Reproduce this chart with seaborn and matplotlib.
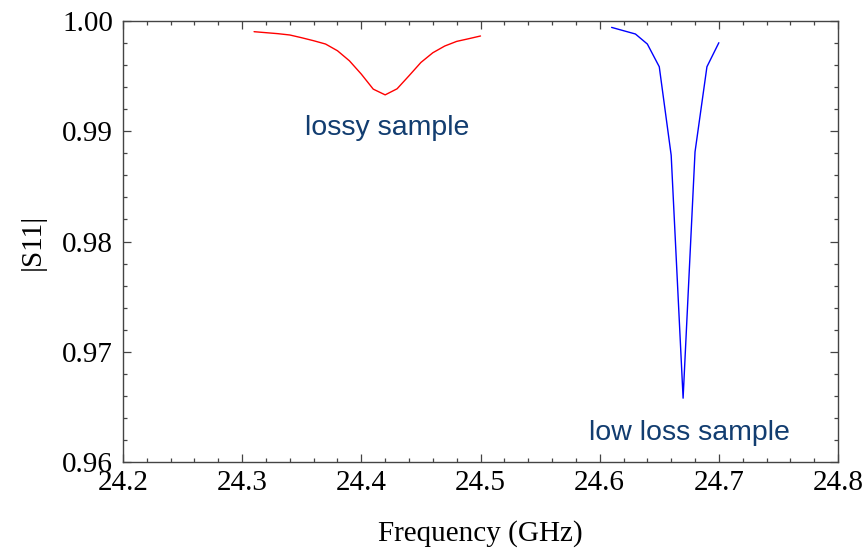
import numpy as np
import pandas as pd
import matplotlib
matplotlib.use("Agg")
import matplotlib.pyplot as plt
import seaborn as sns
from matplotlib.ticker import MultipleLocator

# data
lossy_freq = [24.31, 24.32, 24.33, 24.34, 24.35, 24.36, 24.37, 24.38, 24.39, 24.40,
              24.41, 24.42, 24.43, 24.44, 24.45, 24.46, 24.47, 24.48, 24.49, 24.50]
lossy_s11 = [0.99903, 0.99894, 0.99885, 0.99873, 0.99848, 0.99821, 0.99791, 0.99730,
             0.99639, 0.99518, 0.99382, 0.99330, 0.99385, 0.99503, 0.99624, 0.99712,
             0.99773, 0.99815, 0.99839, 0.99864]

lowloss_freq = [24.61, 24.62, 24.63, 24.64, 24.65, 24.66, 24.67, 24.68, 24.69, 24.70]
lowloss_s11 = [0.99942, 0.99912, 0.99882, 0.99791, 0.99585, 0.98782, 0.96579,
               0.98812, 0.99585, 0.99803]

x_ticks = [24.2, 24.3, 24.4, 24.5, 24.6, 24.7, 24.8]
y_ticks = [0.96, 0.97, 0.98, 0.99, 1.00]

df_lossy = pd.DataFrame({"freq": lossy_freq, "s11": lossy_s11})
df_low = pd.DataFrame({"freq": lowloss_freq, "s11": lowloss_s11})

sns.set_style("ticks")
plt.rcParams['font.family'] = ['Liberation Serif', 'DejaVu Serif']
plt.rcParams['text.color'] = 'black'
plt.rcParams['xtick.labelcolor'] = 'black'
plt.rcParams['ytick.labelcolor'] = 'black'
plt.rcParams['axes.labelcolor'] = 'black'

fig, ax = plt.subplots(figsize=(8.66, 5.51), dpi=100)
fig.subplots_adjust(left=0.142, right=0.9677, top=0.9619, bottom=0.1615)

sns.lineplot(data=df_lossy, x="freq", y="s11", color="#ff0000", lw=1.0, ax=ax)
sns.lineplot(data=df_low, x="freq", y="s11", color="#0000ff", lw=1.0, ax=ax)

ax.set_xlim(24.2, 24.8)
ax.set_ylim(0.96, 1.00)
ax.set_xticks(x_ticks)
ax.set_yticks(y_ticks)
ax.set_xticklabels([f"{t:.1f}" for t in x_ticks])
ax.set_yticklabels([f"{t:.2f}" for t in y_ticks])
ax.xaxis.set_minor_locator(MultipleLocator(0.02))
ax.yaxis.set_minor_locator(MultipleLocator(0.002))

frame_col = "#444444"
for sp in ax.spines.values():
    sp.set_visible(True)
    sp.set_color(frame_col)
    sp.set_linewidth(1.0)

ax.tick_params(which="both", direction="in", top=True, right=True,
               color=frame_col, width=0.9, labelsize=21)
ax.tick_params(which="major", length=6)
ax.tick_params(which="minor", length=3)
ax.tick_params(axis="x", which="major", pad=6)
ax.tick_params(axis="y", which="major", pad=7)

ax.set_xlabel("Frequency (GHz)", fontsize=21, labelpad=17)
ax.set_ylabel("|S11|", fontsize=21, labelpad=12)

txt_col = "#123d70"
ax.text(24.422, 0.99027, "lossy sample", ha="center", va="center",
        fontsize=20.5, color=txt_col, family=["Liberation Sans", "DejaVu Sans"])
ax.text(24.675, 0.96264, "low loss sample", ha="center", va="center",
        fontsize=20.5, color=txt_col, family=["Liberation Sans", "DejaVu Sans"])

fig.savefig("out.png", dpi=100)
